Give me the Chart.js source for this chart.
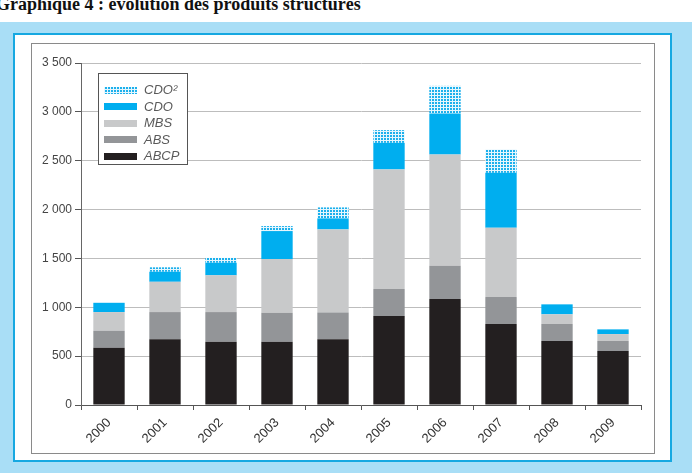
<!DOCTYPE html>
<html><head><meta charset="utf-8">
<script src="https://cdn.jsdelivr.net/npm/chart.js@4/dist/chart.umd.min.js"></script>
<style>
html,body{margin:0;padding:0;width:692px;height:473px;overflow:hidden;background:#fff;}
#title{position:absolute;left:-4px;top:-5px;font:bold 18px/18px "Liberation Serif","Times New Roman",serif;color:#111;white-space:nowrap;}
#band{position:absolute;left:0;top:22px;width:692px;height:451px;background:#a9def6;}
#frame{position:absolute;left:13px;top:33px;width:655px;height:425px;border:2px solid #16a8e1;background:#fff;}
#panel{position:absolute;left:31px;top:43px;width:622px;height:409px;border:1px solid #8a8a8a;background:#fff;}
#wrap{position:absolute;left:0;top:0;width:692px;height:473px;}
</style></head>
<body>
<div id="title">Graphique 4 : évolution des produits structurés</div>
<div id="band"></div>
<div id="frame"></div>
<div id="panel"></div>
<div id="wrap"><canvas id="c" width="692" height="473"></canvas></div>
<script>
const years = ["2000","2001","2002","2003","2004","2005","2006","2007","2008","2009"];
const abcp = [586, 672, 648, 648, 672, 910, 1084, 829, 655, 552];
const abs  = [174, 279, 303, 296, 275, 277, 341, 276, 174, 103];
const mbs  = [191, 310, 376, 550, 850, 1224, 1138, 709, 99, 71];
const cdo  = [95, 103, 129, 286, 113, 272, 421, 562, 102, 48];
const cdo2 = [0, 45, 50, 51, 112, 130, 282, 239, 0, 0];
const yTicks = [0, 500, 1000, 1500, 2000, 2500, 3000, 3500];

function makePattern(){
  const p = document.createElement('canvas'); p.width = 3; p.height = 3;
  const g = p.getContext('2d');
  g.fillStyle = '#1cb0ec'; g.fillRect(0,0,3,3);
  g.fillStyle = '#e6f6fd'; g.fillRect(0,2,3,1); g.fillRect(2,0,1,3);
  return g.createPattern(p,'repeat');
}
const pat = makePattern();

const legendPlugin = {
  id:'boxLegend',
  afterDraw(chart){
    const ctx = chart.ctx;
    ctx.save();
    ctx.fillStyle='#fff';
    ctx.fillRect(98.5,73.5,89,91);
    ctx.strokeStyle='#555'; ctx.lineWidth=1;
    ctx.strokeRect(98.5,73.5,89,91);
    const ds = chart.data.datasets.slice().reverse();
    ds.forEach((d,i)=>{
      const cy = 90 + i*16.5;
      ctx.fillStyle = d.backgroundColor;
      ctx.fillRect(104, Math.round(cy-3.5), 33, 7);
      ctx.fillStyle = '#5a5a5a';
      ctx.font = 'italic 13px "Liberation Sans", Arial, sans-serif';
      ctx.textBaseline = 'middle';
      ctx.textAlign = 'left';
      ctx.fillText(d.label, 144, cy+0.5);
    });
    ctx.restore();
  }
};

new Chart(document.getElementById('c'), {
  type:'bar',
  data:{
    labels: years,
    datasets:[
      {label:'ABCP', data:abcp, backgroundColor:'#231f20'},
      {label:'ABS', data:abs, backgroundColor:'#939598'},
      {label:'MBS', data:mbs, backgroundColor:'#c8c9ca'},
      {label:'CDO', data:cdo, backgroundColor:'#00aeef'},
      {label:'CDO²', data:cdo2, backgroundColor:pat}
    ]
  },
  options:{
    responsive:false,
    animation:false,
    layout:{padding:{left:0,top:63,right:51,bottom:0}},
    datasets:{bar:{categoryPercentage:1, barPercentage:0.56, borderWidth:0}},
    plugins:{legend:{display:false}, tooltip:{enabled:false}},
    scales:{
      x:{
        stacked:true,
        afterFit(s){ s.height = 68; },
        grid:{display:true, drawOnChartArea:false, drawTicks:true, offset:true, tickLength:5, tickColor:'#555'},
        border:{display:true, color:'#555', width:1},
        ticks:{minRotation:45, maxRotation:45, padding:5, color:'#333', font:{family:'"Liberation Sans", Arial, sans-serif', size:13}}
      },
      y:{
        stacked:true, min:0, max:3500,
        afterFit(s){ s.width = 81; },
        afterBuildTicks(s){ s.ticks = yTicks.map(v=>({value:v})); },
        grid:{color:'#bdbdbd', lineWidth:1, tickLength:6, tickColor:'#555'},
        border:{display:true, color:'#666', width:1},
        ticks:{padding:3, color:'#444', font:{family:'"Liberation Sans", Arial, sans-serif', size:12},
          callback:v=>String(v).replace(/\B(?=(\d{3})+(?!\d))/g,' ')}
      }
    }
  },
  plugins:[legendPlugin]
});
</script>
</body></html>
